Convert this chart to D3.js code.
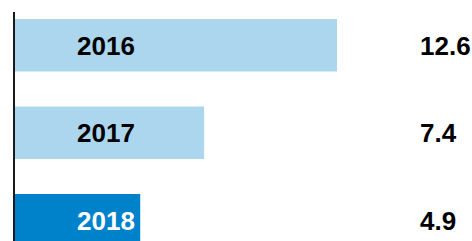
<!DOCTYPE html>
<html><head><meta charset="utf-8">
<script src="https://cdn.jsdelivr.net/npm/d3@7"></script>
<style>html,body{margin:0;padding:0;background:#fff;overflow:hidden}</style>
</head><body>
<svg id="c" width="472" height="241"></svg>
<script>
const years = ["2016", "2017", "2018"];
const values = [12.6, 7.4, 4.9];
const valueLabels = ["12.6", "7.4", "4.9"];
const barColors = ["#abd6ee", "#abd6ee", "#0082cb"];
const yearColors = ["#000", "#000", "#fff"];

const svg = d3.select("#c");
const x = d3.scaleLinear().domain([0, 12.6]).range([15, 337]);
const y = d3.scaleBand().domain(years).range([1.5, 264]).paddingInner(0.4).paddingOuter(0.2);

svg.selectAll("rect.bar").data(years).join("rect")
  .attr("class", "bar")
  .attr("x", x(0)).attr("y", d => y(d))
  .attr("width", (d, i) => x(values[i]) - x(0))
  .attr("height", y.bandwidth())
  .attr("fill", (d, i) => barColors[i]);

svg.append("line").attr("x1", 14).attr("x2", 14).attr("y1", 12).attr("y2", 241)
  .attr("stroke", "#1a1a1a").attr("stroke-width", 2);

const font = "'Liberation Sans', Arial, sans-serif";
svg.selectAll("text.yr").data(years).join("text")
  .attr("class", "yr")
  .attr("x", 77).attr("y", d => y(d) + y.bandwidth() / 2)
  .attr("dy", "0.36em")
  .attr("font-family", font).attr("font-weight", "bold").attr("font-size", 26)
  .attr("fill", (d, i) => yearColors[i])
  .text(d => d);

svg.selectAll("text.val").data(years).join("text")
  .attr("class", "val")
  .attr("x", 420).attr("y", d => y(d) + y.bandwidth() / 2)
  .attr("dy", "0.36em")
  .attr("font-family", font).attr("font-weight", "bold").attr("font-size", 26)
  .attr("fill", "#000")
  .text((d, i) => valueLabels[i]);
</script>
</body></html>
